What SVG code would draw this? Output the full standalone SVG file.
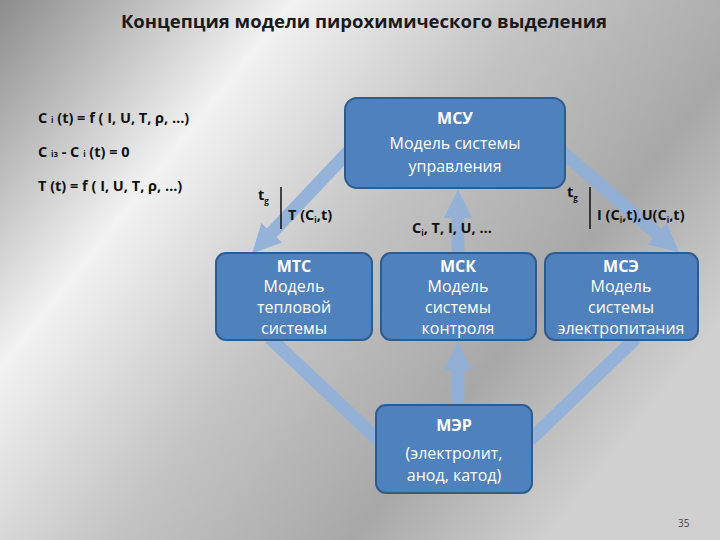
<svg xmlns="http://www.w3.org/2000/svg" width="720" height="540" viewBox="0 0 720 540">
<defs>
<linearGradient id="bg" x1="0" y1="0" x2="1" y2="0.6">
<stop offset="0" stop-color="#8c8c8c"/><stop offset="0.3" stop-color="#f2f2f2"/><stop offset="0.55" stop-color="#c4c4c4"/><stop offset="0.8" stop-color="#a8a8a8"/><stop offset="1" stop-color="#d0d0d0"/>
</linearGradient>
<marker id="ah" viewBox="0 0 10 10" refX="5" refY="5" markerWidth="2.2" markerHeight="2.2" orient="auto" markerUnits="strokeWidth"><path d="M0,0 L10,5 L0,10 z" fill="#8fb0d9"/></marker>
<style>
.box{fill:#4f81bd;stroke:#2f5b8f;stroke-width:2}
.bt{font-family:"Open Sans","DejaVu Sans",sans-serif;font-size:16px;fill:#fff;text-anchor:middle}
.b{font-weight:bold}
.f{font-family:"Open Sans","DejaVu Sans",sans-serif;font-size:14.5px;font-weight:bold;fill:#111}
.c{stroke:#8fb0d9;stroke-width:13;fill:none;opacity:0.9}
</style>
</defs>
<rect width="720" height="540" fill="url(#bg)"/>
<text x="364" y="28" text-anchor="middle" font-family="'Open Sans','DejaVu Sans',sans-serif" font-size="18.5" font-weight="bold" fill="#1a1a1a">Концепция модели пирохимического выделения</text>
<g id="connectors">
<line class="c" x1="350" y1="150" x2="262" y2="243" marker-end="url(#ah)"/>
<line class="c" x1="560" y1="150" x2="668" y2="243" marker-end="url(#ah)"/>
<line class="c" x1="458" y1="253" x2="458" y2="204" marker-end="url(#ah)"/>
<line class="c" x1="458" y1="405" x2="458" y2="356" marker-end="url(#ah)"/>
<line class="c" x1="270" y1="338" x2="378" y2="440"/>
<line class="c" x1="636" y1="338" x2="530" y2="440"/>
</g>
<g id="formulas">
<text class="f" x="38" y="123">C <tspan font-size="8">i</tspan> (t) = f ( I, U, T,  ρ, …)</text>
<text class="f" x="38" y="157">C <tspan font-size="8">iз</tspan> - C <tspan font-size="8">i</tspan> (t) = 0</text>
<text class="f" x="38" y="191">T (t) = f ( I, U, T,  ρ, …)</text>
</g>
<g id="labels">
<text class="f" x="258" y="200" font-size="16">t<tspan font-size="8" dy="4">g</tspan></text>
<line x1="281" y1="187" x2="281" y2="229" stroke="#111" stroke-width="1.5"/>
<text class="f" x="288" y="220">T (C<tspan font-size="8" dy="3">i</tspan><tspan dy="-3">,t)</tspan></text>
<text class="f" x="412" y="233">C<tspan font-size="8" dy="3">i</tspan><tspan dy="-3">,  T,  I, U, …</tspan></text>
<text class="f" x="567" y="197" font-size="16">t<tspan font-size="8" dy="4">g</tspan></text>
<line x1="590" y1="187" x2="590" y2="229" stroke="#111" stroke-width="1.5"/>
<text class="f" x="597" y="220">I (C<tspan font-size="8" dy="3">i</tspan><tspan dy="-3">,t),U(C</tspan><tspan font-size="8" dy="3">i</tspan><tspan dy="-3">,t)</tspan></text>
</g>
<g id="msu"><rect class="box" x="345" y="98" width="220" height="90" rx="12"/>
<text class="bt b" x="455" y="124">МСУ</text><text class="bt" x="455" y="149">Модель системы</text><text class="bt" x="455" y="172">управления</text></g>
<g id="mtc"><rect class="box" x="216" y="253" width="156" height="87" rx="10"/>
<text class="bt b" x="294" y="272">МТС</text><text class="bt" x="294" y="292">Модель</text><text class="bt" x="294" y="313">тепловой</text><text class="bt" x="294" y="334">системы</text></g>
<g id="msk"><rect class="box" x="381" y="253" width="155" height="87" rx="10"/>
<text class="bt b" x="458" y="272">МСК</text><text class="bt" x="458" y="292">Модель</text><text class="bt" x="458" y="313">системы</text><text class="bt" x="458" y="334">контроля</text></g>
<g id="mse"><rect class="box" x="545" y="253" width="153" height="87" rx="10"/>
<text class="bt b" x="621" y="272">МСЭ</text><text class="bt" x="621" y="292">Модель</text><text class="bt" x="621" y="313">системы</text><text class="bt" x="621" y="334">электропитания</text></g>
<g id="mer"><rect class="box" x="376" y="405" width="156" height="88" rx="10"/>
<text class="bt b" x="454" y="431">МЭР</text><text class="bt" x="454" y="459">(электролит,</text><text class="bt" x="454" y="481">анод, катод)</text></g>
<text x="678" y="527" font-family="'Open Sans','DejaVu Sans',sans-serif" font-size="10" fill="#444">35</text>
</svg>
